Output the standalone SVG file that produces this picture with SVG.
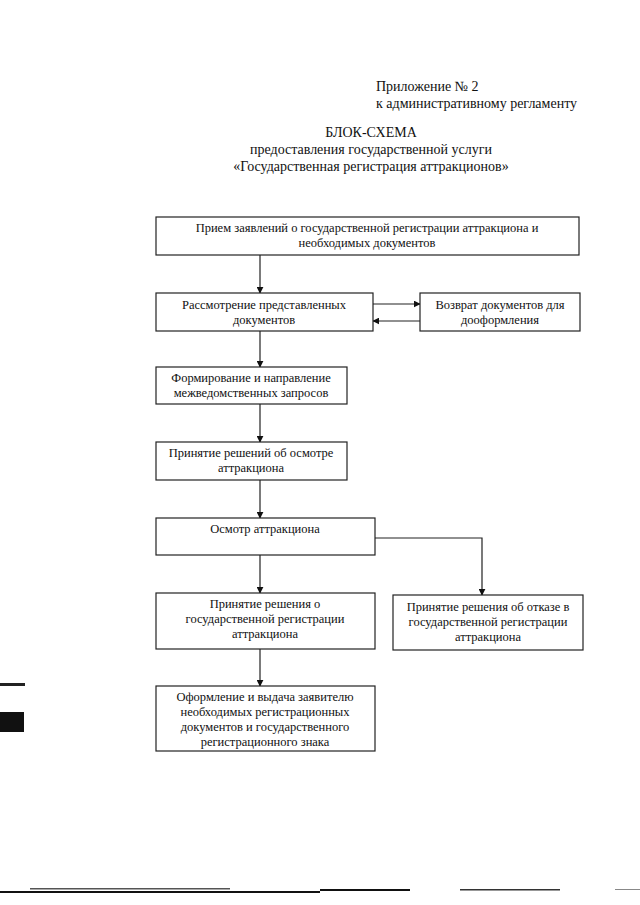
<svg xmlns="http://www.w3.org/2000/svg" width="640" height="905" viewBox="0 0 640 905">
<style>
text{font-family:"Liberation Serif","Times New Roman",serif;fill:#111}
.h{font-size:14px}
.t{font-size:12.5px;text-anchor:middle}
.box{fill:#fff;stroke:#222;stroke-width:1.2}
.ln{fill:none;stroke:#222;stroke-width:1.2}
</style>
<defs>
<marker id="ar" viewBox="0 0 10 10" refX="9" refY="5" markerWidth="7" markerHeight="7" orient="auto" markerUnits="userSpaceOnUse"><path d="M0,0 L10,5 L0,10 z" fill="#111"/></marker>
</defs>
<rect width="640" height="905" fill="#fff"/>
<g id="header">
<text class="h" x="376" y="91">Приложение № 2</text>
<text class="h" x="376" y="108">к административному регламенту</text>
<text class="h" x="371" y="137" text-anchor="middle">БЛОК-СХЕМА</text>
<text class="h" x="371" y="154" text-anchor="middle">предоставления государственной услуги</text>
<text class="h" x="371" y="171" text-anchor="middle">«Государственная регистрация аттракционов»</text>
</g>
<g id="connectors">
<line class="ln" x1="260" y1="255" x2="260" y2="293" marker-end="url(#ar)"/>
<line class="ln" x1="373" y1="304" x2="420" y2="304" marker-end="url(#ar)"/>
<line class="ln" x1="420" y1="321" x2="373" y2="321" marker-end="url(#ar)"/>
<line class="ln" x1="260" y1="331" x2="260" y2="367" marker-end="url(#ar)"/>
<line class="ln" x1="260" y1="404" x2="260" y2="442" marker-end="url(#ar)"/>
<line class="ln" x1="260" y1="480" x2="260" y2="518" marker-end="url(#ar)"/>
<line class="ln" x1="260" y1="555" x2="260" y2="593" marker-end="url(#ar)"/>
<polyline class="ln" points="375,538 482,538 482,595" marker-end="url(#ar)"/>
<line class="ln" x1="260" y1="649" x2="260" y2="686" marker-end="url(#ar)"/>
</g>
<g id="n1"><rect class="box" x="156" y="217" width="423" height="38"/>
<text class="t" x="367" y="232">Прием заявлений о государственной регистрации аттракциона и</text>
<text class="t" x="367" y="247">необходимых документов</text></g>
<g id="n2"><rect class="box" x="156" y="293" width="217" height="38"/>
<text class="t" x="264" y="309">Рассмотрение представленных</text>
<text class="t" x="264" y="324">документов</text></g>
<g id="n3"><rect class="box" x="420" y="293" width="160" height="38"/>
<text class="t" x="500" y="309">Возврат документов для</text>
<text class="t" x="500" y="324">дооформления</text></g>
<g id="n4"><rect class="box" x="156" y="367" width="191" height="37"/>
<text class="t" x="251" y="382">Формирование и направление</text>
<text class="t" x="251" y="397">межведомственных запросов</text></g>
<g id="n5"><rect class="box" x="156" y="442" width="191" height="38"/>
<text class="t" x="251" y="457">Принятие решений об осмотре</text>
<text class="t" x="251" y="472">аттракциона</text></g>
<g id="n6"><rect class="box" x="156" y="518" width="219" height="37"/>
<text class="t" x="265" y="533">Осмотр аттракциона</text></g>
<g id="n7"><rect class="box" x="156" y="593" width="219" height="56"/>
<text class="t" x="265" y="608">Принятие решения о</text>
<text class="t" x="265" y="623">государственной регистрации</text>
<text class="t" x="265" y="638">аттракциона</text></g>
<g id="n8"><rect class="box" x="393" y="595" width="190" height="55"/>
<text class="t" x="488" y="611">Принятие решения об отказе в</text>
<text class="t" x="488" y="626">государственной регистрации</text>
<text class="t" x="488" y="641">аттракциона</text></g>
<g id="n9"><rect class="box" x="156" y="686" width="219" height="65"/>
<text class="t" x="265" y="701">Оформление и выдача заявителю</text>
<text class="t" x="265" y="716">необходимых регистрационных</text>
<text class="t" x="265" y="731">документов и государственного</text>
<text class="t" x="265" y="746">регистрационного знака</text></g>
<g id="scan-marks">
<rect x="0" y="683" width="25" height="3" fill="#222"/>
<rect x="0" y="712" width="24" height="20" fill="#111"/>
<rect x="0" y="891" width="320" height="2" fill="#111"/>
<rect x="30" y="888" width="200" height="1.5" fill="#555"/>
<rect x="320" y="889" width="90" height="2" fill="#111"/>
<rect x="460" y="889" width="100" height="1.5" fill="#333"/>
<rect x="615" y="889" width="25" height="1" fill="#888"/>
</g>
</svg>
